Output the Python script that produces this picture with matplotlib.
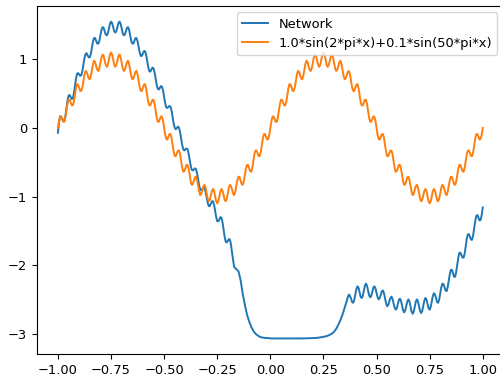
import numpy as np
import matplotlib
matplotlib.use('Agg')
import matplotlib.pyplot as plt

# ---- network output (three stretches) ----
# wiggly left part, x = -1.00 .. -0.18, step 0.005
net_a = [
    -0.07, 0.08, 0.17, 0.16,  0.135, 0.10, 0.10, 0.17,  0.285, 0.40, 0.47, 0.48,
    0.45, 0.42, 0.43, 0.50,  0.61, 0.72, 0.79, 0.80,  0.78, 0.76, 0.77, 0.83,
    0.925, 1.02, 1.08, 1.09,  1.055, 1.03, 1.03, 1.08,  1.17, 1.26, 1.31, 1.31,
    1.27, 1.23, 1.23, 1.27,  1.35, 1.43, 1.47, 1.46,  1.41, 1.36, 1.35, 1.38,
    1.45, 1.52, 1.55, 1.53,  1.47, 1.41, 1.39, 1.41,  1.47, 1.53, 1.55, 1.52,
    1.45, 1.38, 1.35, 1.36,  1.41, 1.46, 1.47, 1.43,  1.35, 1.27, 1.23, 1.23,
    1.27, 1.31, 1.31, 1.26,  1.18, 1.10, 1.05, 1.05,  1.085, 1.12, 1.12, 1.07,
    0.975, 0.89, 0.83, 0.82,  0.85, 0.88, 0.87, 0.81,  0.72, 0.63, 0.57, 0.56,
    0.585, 0.61, 0.60, 0.54,  0.45, 0.36, 0.30, 0.29,  0.305, 0.32, 0.31, 0.25,
    0.155, 0.06, 0.00, -0.02,  0.00, 0.02, 0.00, -0.06,  -0.155, -0.25, -0.31, -0.33,
    -0.31, -0.30, -0.31, -0.37,  -0.46, -0.55, -0.61, -0.62,  -0.605, -0.59, -0.60, -0.66,
    -0.75, -0.84, -0.90, -0.91,  -0.89, -0.87, -0.88, -0.93,  -1.01, -1.09, -1.14, -1.14,
    -1.105, -1.07, -1.07, -1.12,  -1.215, -1.30, -1.36, -1.36,  -1.335, -1.30, -1.31, -1.38,
    -1.485, -1.59, -1.66, -1.67,  -1.645, -1.62, -1.63, -1.71,
    -1.83,
]
# smooth drop, floor and ramp, x = -0.17 .. 0.35, step 0.01
net_b = [
    -2.03, -2.06, -2.09, -2.22, -2.42, -2.58, -2.72, -2.82, -2.90, -2.96,
    -3.00, -3.025, -3.045, -3.055, -3.06, -3.063, -3.065, -3.068,
    -3.07, -3.07, -3.07, -3.07, -3.07, -3.07, -3.07, -3.07, -3.07, -3.07,
    -3.07, -3.07, -3.07, -3.07, -3.07,
    -3.069, -3.068, -3.067, -3.066, -3.065, -3.063, -3.06, -3.057, -3.052, -3.045,
    -3.04, -3.03, -3.015, -3.00, -2.97, -2.93, -2.87, -2.80, -2.72, -2.62,
]
# wiggly right part, x = 0.36 .. 1.00, step 0.005
net_c = [
    -2.52, -2.46, -2.43, -2.45,  -2.49, -2.54, -2.55, -2.51,  -2.43, -2.35, -2.31, -2.33,
    -2.395, -2.46, -2.48, -2.45,  -2.375, -2.30, -2.27, -2.30,  -2.37, -2.44, -2.47, -2.45,
    -2.39, -2.33, -2.31, -2.34,  -2.405, -2.47, -2.50, -2.48,  -2.435, -2.38, -2.37, -2.41,
    -2.485, -2.56, -2.60, -2.58,  -2.53, -2.48, -2.46, -2.49,  -2.555, -2.62, -2.65, -2.63,
    -2.57, -2.51, -2.49, -2.52,  -2.59, -2.66, -2.69, -2.66,  -2.595, -2.53, -2.50, -2.53,
    -2.605, -2.68, -2.71, -2.68,  -2.605, -2.53, -2.50, -2.53,  -2.60, -2.67, -2.70, -2.67,
    -2.59, -2.52, -2.48, -2.50,  -2.565, -2.63, -2.65, -2.61,  -2.53, -2.45, -2.41, -2.43,
    -2.48, -2.54, -2.55, -2.50,  -2.41, -2.32, -2.27, -2.28,  -2.325, -2.37, -2.38, -2.32,
    -2.225, -2.13, -2.07, -2.07,  -2.12, -2.17, -2.17, -2.10,  -1.995, -1.89, -1.82, -1.82,
    -1.855, -1.89, -1.89, -1.83,  -1.72, -1.61, -1.55, -1.55,  -1.59, -1.63, -1.63, -1.56,
    -1.455, -1.35, -1.28, -1.27,  -1.31, -1.35, -1.34, -1.27,
    -1.16,
]

x_net = np.concatenate([
    np.linspace(-1.0, -0.18, len(net_a)),
    np.linspace(-0.17, 0.35, len(net_b)),
    np.linspace(0.36, 1.0, len(net_c)),
])
network = net_a + net_b + net_c

# ---- target curve, one half period (x = 0 .. 0.495, step 0.005) ----
quarter = [
    0.00, 0.10, 0.16, 0.17, 0.13, 0.09, 0.09, 0.15, 0.25, 0.35,
    0.41, 0.41, 0.37, 0.33, 0.33, 0.38, 0.48, 0.58, 0.64, 0.63,
    0.59, 0.54, 0.54, 0.59, 0.68, 0.78, 0.83, 0.82, 0.77, 0.72,
    0.71, 0.76, 0.84, 0.93, 0.98, 0.96, 0.90, 0.85, 0.83, 0.87,
    0.95, 1.03, 1.07, 1.05, 0.98, 0.92, 0.89, 0.92, 1.00, 1.07,
    1.10, 1.07, 1.00, 0.92, 0.89, 0.92, 0.98, 1.05, 1.07, 1.03,
    0.95, 0.87, 0.83, 0.85, 0.90, 0.96, 0.98, 0.93, 0.84, 0.76,
    0.71, 0.72, 0.77, 0.82, 0.83, 0.78, 0.68, 0.59, 0.54, 0.54,
    0.59, 0.63, 0.64, 0.58, 0.48, 0.38, 0.33, 0.33, 0.37, 0.41,
    0.41, 0.35, 0.25, 0.15, 0.09, 0.09, 0.13, 0.17, 0.16, 0.10,
]
neg = [-v for v in quarter]
target = quarter + neg + quarter + neg + [0.0]
x_target = np.linspace(-1.0, 1.0, len(target))

plt.rcParams['font.size'] = 9.4

fig = plt.figure(figsize=(5.0, 3.83), dpi=100)
ax = fig.add_axes([0.0734, 0.0749, 0.9346, 0.910])

ax.plot(x_net, network, lw=1.4, label='Network')
ax.plot(x_target, target, lw=1.4, label='1.0*sin(2*pi*x)+0.1*sin(50*pi*x)')
ax.legend(loc='upper right')

fig.savefig('out.png', dpi=100)
